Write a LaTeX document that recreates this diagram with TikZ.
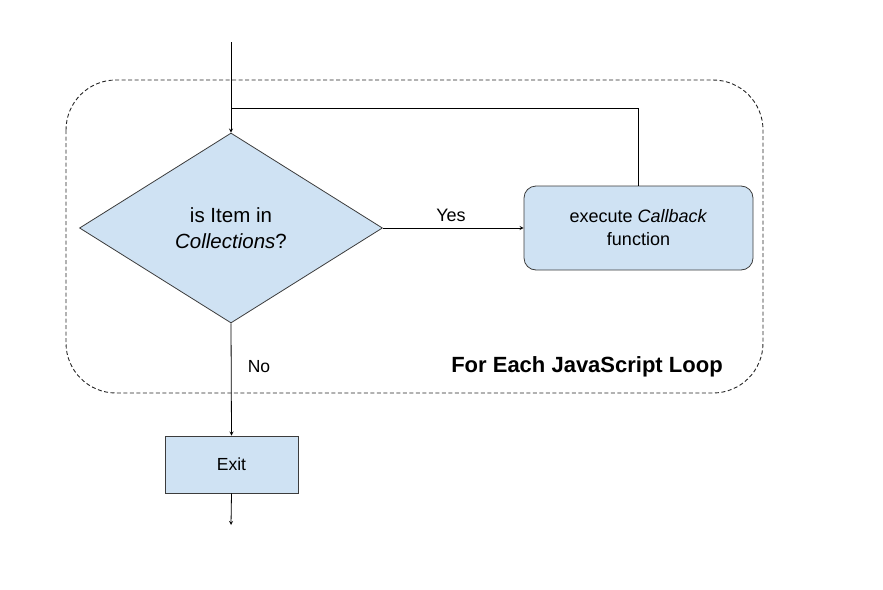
\documentclass[tikz,border=0pt]{standalone}
\usepackage{fontspec}
\setmainfont{Liberation Sans}
\usetikzlibrary{shapes.geometric}
\definecolor{boxblue}{HTML}{CFE2F3}
\definecolor{edgegray}{HTML}{3C3C3C}
\tikzset{
	stepbox/.style={draw=edgegray, fill=boxblue, line width=0.8pt, align=center, font=\fontsize{18}{23}\selectfont},
	flow/.style={-stealth, line width=0.8pt}
}
\begin{document}
\begin{tikzpicture}[x=1pt, y=-1pt]
				\useasboundingbox (0,0) rectangle (883,589);
				\draw[dash pattern=on 4pt off 2.5pt, line width=0.9pt, black!85, rounded corners=50pt] (66,80) rectangle (763,393);
				\node[stepbox, diamond, minimum width=303pt, minimum height=190pt, inner sep=0pt, font=\fontsize{20.5}{26}\selectfont] (check) at (231,228) {is Item in\\\textit{Collections}?};
				\node[stepbox, rounded corners=12pt, minimum width=229pt, minimum height=84pt] (callback) at (638.5,228) {execute \textit{Callback}\\function};
				\node[stepbox, minimum width=133pt, minimum height=57pt, font=\fontsize{17.5}{20}\selectfont] (exit) at (231.5,464.5) {Exit};
				\coordinate (start) at (231,42);
				\coordinate (end) at (231,525);
				\draw[flow] (start)--(check.north);
				\draw[flow] (check.east)--(callback.west);
				\draw[line width=0.8pt] (callback.north)|-(231,108);
				\draw[flow] (check.south)--(exit.north);
				\draw[flow] (exit.south)--(end);
				\node[font=\fontsize{18}{20}\selectfont] (yes) at (451,215) {Yes};
				\node[font=\fontsize{17.5}{20}\selectfont] (no) at (259,367) {No};
				\node[font=\bfseries\fontsize{22}{26}\selectfont] (title) at (587,367) {For Each JavaScript Loop};
			\end{tikzpicture}
\end{document}
